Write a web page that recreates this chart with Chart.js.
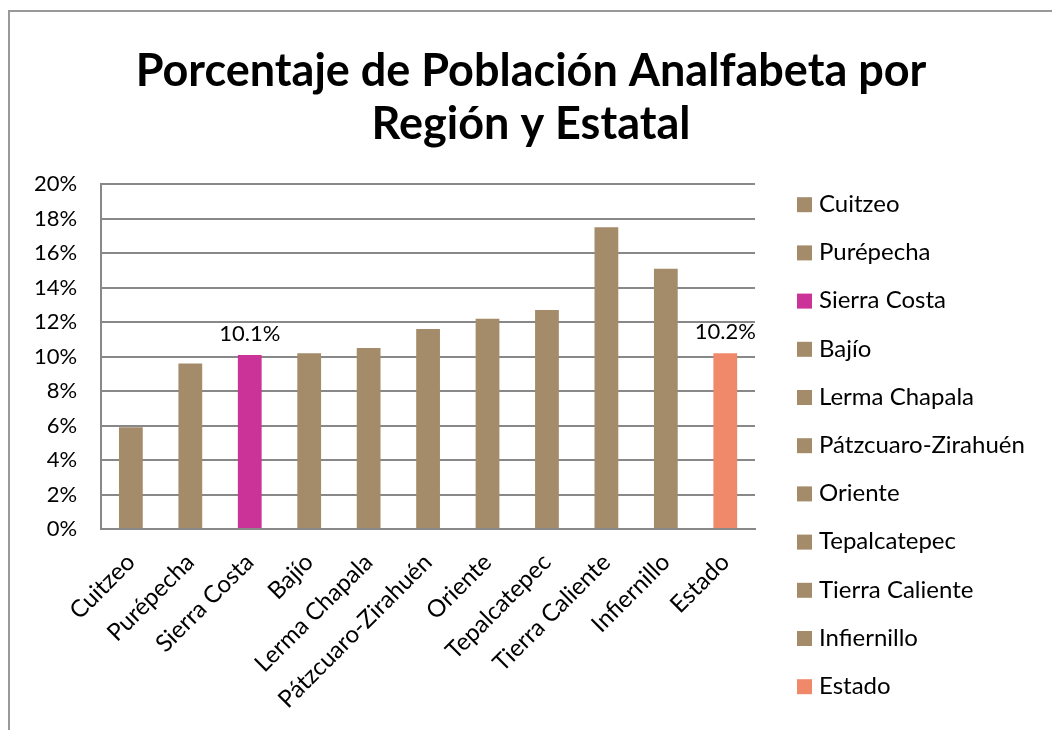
<!DOCTYPE html>
<html>
<head>
<meta charset="utf-8">
<script src="https://cdn.jsdelivr.net/npm/chart.js@4"></script>
<style>
  html, body { margin: 0; padding: 0; background: #fff; }
  #wrap { position: absolute; left: 8px; top: 10px; width: 1044px; height: 720px;
          border-left: 2px solid #999; border-top: 2px solid #999; box-sizing: border-box; }
  canvas { display: block; }
</style>
</head>
<body>
<div id="wrap"><canvas id="barChart"></canvas></div>
<script>
'use strict'

var categories = ['Cuitzeo', 'Purépecha', 'Sierra Costa', 'Bajío', 'Lerma Chapala',
  'Pátzcuaro-Zirahuén', 'Oriente', 'Tepalcatepec', 'Tierra Caliente', 'Infiernillo', 'Estado'];
var values = [5.9, 9.6, 10.1, 10.2, 10.5, 11.6, 12.2, 12.7, 17.5, 15.1, 10.2];
var barColors = ['#a48c6a', '#a48c6a', '#cc3399', '#a48c6a', '#a48c6a', '#a48c6a',
  '#a48c6a', '#a48c6a', '#a48c6a', '#a48c6a', '#f0896a'];
// only these bars carry a value label
var labelledBars = [2, 10];

var fontName = 'Lato, "Open Sans", sans-serif';

// draws the value over the labelled bars
var valueLabels = {
  id: 'valueLabels',
  afterDatasetsDraw: function(chart) {
    var ctx = chart.ctx;
    var meta = chart.getDatasetMeta(0);
    ctx.save();
    ctx.font = '22px ' + fontName;
    ctx.fillStyle = '#000';
    ctx.textAlign = 'center';
    ctx.textBaseline = 'bottom';
    labelledBars.forEach(function(i) {
      var bar = meta.data[i];
      ctx.fillText(values[i].toFixed(1) + '%', bar.x, bar.y - 10);
    });
    ctx.restore();
  }
};

// legend with one entry per category, excel style (the built-in one
// can't leave enough room between the plot and the squares)
var sideLegend = {
  id: 'sideLegend',
  afterDraw: function(chart) {
    var ctx = chart.ctx;
    var area = chart.chartArea;
    var x = area.right + 42;
    var y = area.top + 20;
    ctx.save();
    ctx.font = '24px ' + fontName;
    ctx.textBaseline = 'middle';
    ctx.textAlign = 'left';
    categories.forEach(function(name, i) {
      var cy = y + i * 48.2;
      ctx.fillStyle = barColors[i];
      ctx.fillRect(x, cy - 7, 15, 15);
      ctx.fillStyle = '#000';
      ctx.fillText(name, x + 22, cy);
    });
    ctx.restore();
  }
};

var chart = new Chart(document.getElementById('barChart'), {
  type: 'bar',
  data: {
    labels: categories,
    datasets: [{
      data: values,
      backgroundColor: barColors,
      barPercentage: 0.4,
      categoryPercentage: 1
    }]
  },
  options: {
    responsive: true,
    maintainAspectRatio: false,
    animation: false,
    layout: { padding: { left: 0, right: 0, top: 10, bottom: 5 } },
    plugins: {
      title: {
        display: true,
        text: ['Porcentaje de Población Analfabeta por', 'Región y Estatal'],
        color: '#000',
        font: { family: fontName, size: 45, weight: 'bold', lineHeight: 1.18 },
        padding: { top: 23, bottom: 33 }
      },
      legend: { display: false },
      tooltip: { enabled: false }
    },
    scales: {
      x: {
        grid: { display: false },
        border: { color: '#888', width: 2 },
        ticks: { color: '#000', font: { family: fontName, size: 24 },
                 maxRotation: 45, minRotation: 45, padding: 11 }
      },
      y: {
        min: 0,
        max: 20,
        ticks: { stepSize: 2, color: '#000', font: { family: fontName, size: 22 },
                 padding: 24,
                 callback: function(v) { return v + '%'; } },
        grid: { color: '#888', lineWidth: 2, drawTicks: false },
        border: { color: '#888', width: 2 }
      },
      // empty axis on the right, keeps the space where the legend goes
      gap: {
        position: 'right',
        grid: { display: false },
        border: { display: false },
        ticks: { display: false },
        afterFit: function(scale) { scale.width = 297; }
      }
    }
  },
  plugins: [valueLabels, sideLegend]
});
</script>
</body>
</html>
